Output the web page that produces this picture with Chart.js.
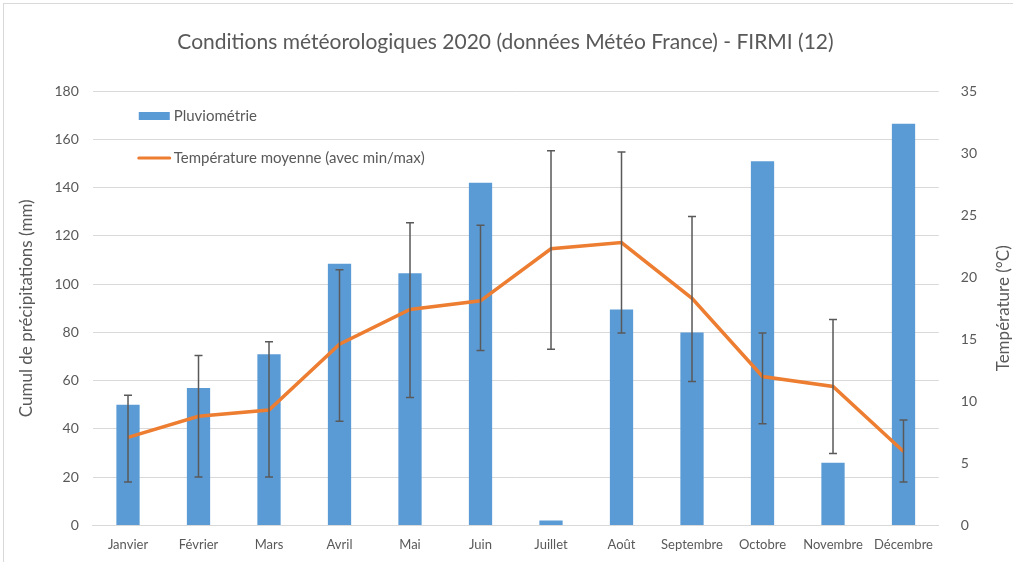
<!DOCTYPE html>
<html>
<head>
<meta charset="utf-8">
<script src="https://cdn.jsdelivr.net/npm/chart.js@4.4.0/dist/chart.umd.min.js"></script>
<style>
  html, body { margin: 0; padding: 0; background: #fff; }
  #wrap { width: 1013px; height: 562px; }
</style>
</head>
<body>
<div id="wrap"><canvas id="myChart"></canvas></div>
<script>
var months = ["Janvier", "Février", "Mars", "Avril", "Mai", "Juin", "Juillet", "Août", "Septembre", "Octobre", "Novembre", "Décembre"];
var pluie = [50, 57, 71, 108.5, 104.5, 142, 2, 89.5, 80, 151, 26, 166.5];
var tempMoy = [7.1, 8.8, 9.3, 14.6, 17.4, 18.1, 22.3, 22.8, 18.3, 12.0, 11.2, 5.95];
var tempMin = [3.5, 3.9, 3.9, 8.4, 10.3, 14.1, 14.2, 15.5, 11.6, 8.2, 5.8, 3.5];
var tempMax = [10.5, 13.7, 14.8, 20.6, 24.4, 24.2, 30.2, 30.1, 24.9, 15.5, 16.6, 8.5];

var grey = '#595959';
var font = "Lato, 'Open Sans', sans-serif";

// error bars min/max on the temperature line
var errorBars = {
  id: 'errorBars',
  afterDatasetsDraw: function(chart) {
    var ctx = chart.ctx;
    var meta = chart.getDatasetMeta(1);
    var y = chart.scales.y2;
    ctx.save();
    ctx.strokeStyle = grey;
    ctx.lineWidth = 1.5;
    meta.data.forEach(function(pt, i) {
      var x = pt.x;
      var top = y.getPixelForValue(tempMax[i]);
      var bot = y.getPixelForValue(tempMin[i]);
      ctx.beginPath();
      ctx.moveTo(x, top); ctx.lineTo(x, bot);
      ctx.moveTo(x - 4, top); ctx.lineTo(x + 4, top);
      ctx.moveTo(x - 4, bot); ctx.lineTo(x + 4, bot);
      ctx.stroke();
    });
    ctx.restore();
  }
};

// legend inside the plot, right axis title, outer frame
var extras = {
  id: 'extras',
  afterDraw: function(chart) {
    var ctx = chart.ctx;
    var a = chart.chartArea;
    ctx.save();
    ctx.strokeStyle = '#d9d9d9';
    ctx.lineWidth = 1;
    ctx.strokeRect(3.5, 3.5, 1030, 600);
    ctx.font = '15px ' + font;
    ctx.textBaseline = 'middle';
    var ds = chart.data.datasets;
    var x0 = a.left + 46;
    ctx.fillStyle = ds[0].backgroundColor;
    ctx.fillRect(x0, 112, 31, 8);
    ctx.fillStyle = grey;
    ctx.fillText(ds[0].label, x0 + 35, 116);
    ctx.strokeStyle = ds[1].borderColor;
    ctx.lineWidth = 3;
    ctx.lineCap = 'round';
    ctx.beginPath();
    ctx.moveTo(x0, 158); ctx.lineTo(x0 + 31, 158);
    ctx.stroke();
    ctx.fillText(ds[1].label, x0 + 35, 158);

    ctx.translate(1004, (a.top + a.bottom) / 2);
    ctx.rotate(-Math.PI / 2);
    ctx.textAlign = 'center';
    ctx.font = '17px ' + font;
    ctx.fillText('Température (°C)', 0, 0);
    ctx.restore();
  }
};

var ctx = document.getElementById('myChart').getContext('2d');
var myChart = new Chart(ctx, {
  type: 'bar',
  data: {
    labels: months,
    datasets: [{
      type: 'bar',
      label: 'Pluviométrie',
      data: pluie,
      backgroundColor: '#5b9bd5',
      yAxisID: 'y',
      barPercentage: 0.66,
      categoryPercentage: 0.5,
      order: 2
    }, {
      type: 'line',
      label: 'Température moyenne (avec min/max)',
      data: tempMoy,
      borderColor: '#ed7d31',
      borderWidth: 3.5,
      pointRadius: 0,
      tension: 0,
      fill: false,
      yAxisID: 'y2',
      order: 1
    }]
  },
  options: {
    responsive: true,
    maintainAspectRatio: false,
    animation: false,
    layout: { padding: { left: 12, right: 14, top: 14, bottom: 5 } },
    plugins: {
      legend: { display: false },
      tooltip: { enabled: false },
      title: {
        display: true,
        text: 'Conditions météorologiques 2020 (données Météo France) - FIRMI (12)',
        color: grey,
        font: { family: font, size: 21, weight: 'normal' },
        padding: { top: 16, bottom: 36 }
      }
    },
    scales: {
      x: {
        grid: { display: false },
        border: { color: '#d9d9d9' },
        ticks: { color: grey, font: { family: font, size: 13 }, maxRotation: 0, padding: 4 }
      },
      y: {
        position: 'left',
        min: 0, max: 180,
        ticks: { stepSize: 20, color: grey, font: { family: font, size: 14 }, padding: 14 },
        grid: { color: '#d9d9d9', drawTicks: false },
        border: { display: false },
        title: { display: true, text: 'Cumul de précipitations (mm)', color: grey, font: { family: font, size: 17 } }
      },
      y2: {
        position: 'right',
        min: 0, max: 35,
        ticks: { stepSize: 5, color: grey, font: { family: font, size: 14 }, padding: 22 },
        grid: { display: false, drawTicks: false },
        border: { display: false }
      }
    }
  },
  plugins: [errorBars, extras]
});
</script>
</body>
</html>
